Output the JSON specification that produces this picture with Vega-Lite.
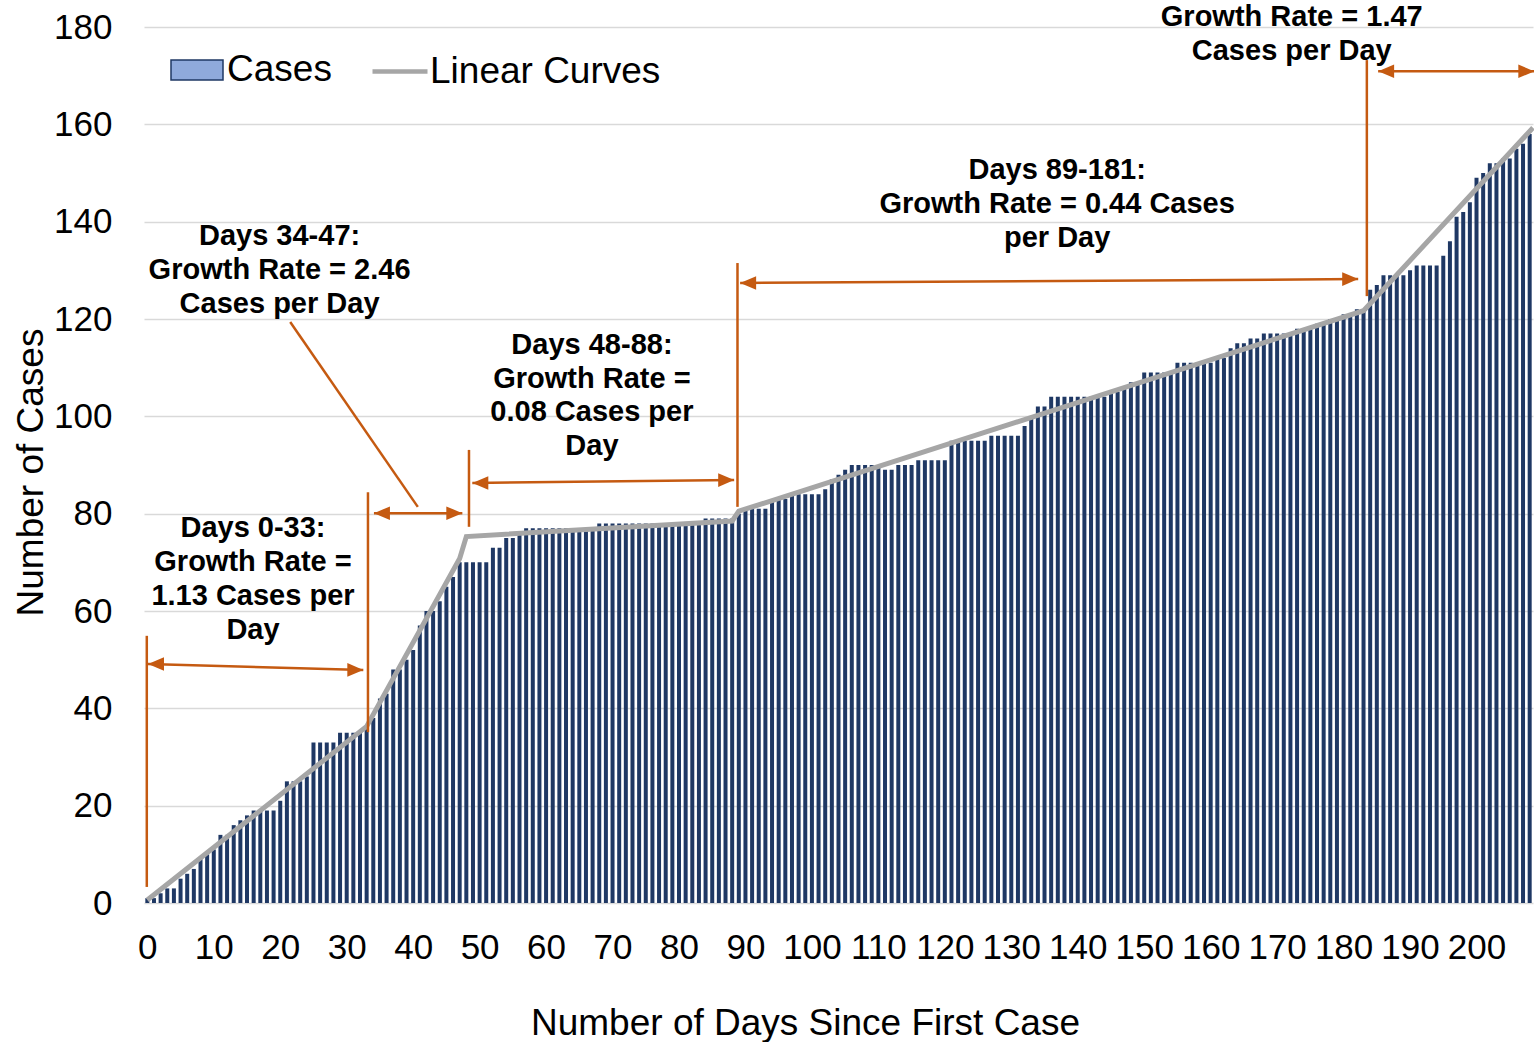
{
  "$schema": "https://vega.github.io/schema/vega-lite/v6.json",
  "width": 1389,
  "height": 876,
  "autosize": {"type": "none"},
  "padding": {"left": 144, "top": 27, "right": 1, "bottom": 139},
  "background": "white",
  "config": {"view": {"stroke": null}, "font": "Liberation Sans"},
  "datasets": {
    "cases": [
      {"day":0,"cases":1},{"day":1,"cases":1},{"day":2,"cases":2},{"day":3,"cases":3},{"day":4,"cases":3},{"day":5,"cases":5},{"day":6,"cases":6},{"day":7,"cases":7},{"day":8,"cases":9},{"day":9,"cases":10},
      {"day":10,"cases":11},{"day":11,"cases":14},{"day":12,"cases":14},{"day":13,"cases":16},{"day":14,"cases":17},{"day":15,"cases":18},{"day":16,"cases":19},{"day":17,"cases":19},{"day":18,"cases":19},{"day":19,"cases":19},
      {"day":20,"cases":21},{"day":21,"cases":25},{"day":22,"cases":25},{"day":23,"cases":25},{"day":24,"cases":26},{"day":25,"cases":33},{"day":26,"cases":33},{"day":27,"cases":33},{"day":28,"cases":33},{"day":29,"cases":35},
      {"day":30,"cases":35},{"day":31,"cases":35},{"day":32,"cases":35},{"day":33,"cases":36},{"day":34,"cases":38},{"day":35,"cases":42},{"day":36,"cases":43},{"day":37,"cases":48},{"day":38,"cases":48},{"day":39,"cases":50},
      {"day":40,"cases":52},{"day":41,"cases":57},{"day":42,"cases":60},{"day":43,"cases":60},{"day":44,"cases":62},{"day":45,"cases":65},{"day":46,"cases":67},{"day":47,"cases":70},{"day":48,"cases":70},{"day":49,"cases":70},
      {"day":50,"cases":70},{"day":51,"cases":70},{"day":52,"cases":73},{"day":53,"cases":73},{"day":54,"cases":75},{"day":55,"cases":75},{"day":56,"cases":76},{"day":57,"cases":77},{"day":58,"cases":77},{"day":59,"cases":77},
      {"day":60,"cases":77},{"day":61,"cases":77},{"day":62,"cases":77},{"day":63,"cases":77},{"day":64,"cases":77},{"day":65,"cases":77},{"day":66,"cases":77},{"day":67,"cases":77},{"day":68,"cases":78},{"day":69,"cases":78},
      {"day":70,"cases":78},{"day":71,"cases":78},{"day":72,"cases":78},{"day":73,"cases":78},{"day":74,"cases":78},{"day":75,"cases":78},{"day":76,"cases":78},{"day":77,"cases":78},{"day":78,"cases":78},{"day":79,"cases":78},
      {"day":80,"cases":78},{"day":81,"cases":78},{"day":82,"cases":78},{"day":83,"cases":78},{"day":84,"cases":79},{"day":85,"cases":79},{"day":86,"cases":79},{"day":87,"cases":79},{"day":88,"cases":79},{"day":89,"cases":80},
      {"day":90,"cases":81},{"day":91,"cases":81},{"day":92,"cases":81},{"day":93,"cases":81},{"day":94,"cases":83},{"day":95,"cases":83},{"day":96,"cases":83},{"day":97,"cases":84},{"day":98,"cases":84},{"day":99,"cases":84},
      {"day":100,"cases":84},{"day":101,"cases":84},{"day":102,"cases":85},{"day":103,"cases":87},{"day":104,"cases":88},{"day":105,"cases":89},{"day":106,"cases":90},{"day":107,"cases":90},{"day":108,"cases":90},{"day":109,"cases":90},
      {"day":110,"cases":90},{"day":111,"cases":89},{"day":112,"cases":89},{"day":113,"cases":90},{"day":114,"cases":90},{"day":115,"cases":90},{"day":116,"cases":91},{"day":117,"cases":91},{"day":118,"cases":91},{"day":119,"cases":91},
      {"day":120,"cases":91},{"day":121,"cases":95},{"day":122,"cases":95},{"day":123,"cases":95},{"day":124,"cases":95},{"day":125,"cases":95},{"day":126,"cases":95},{"day":127,"cases":96},{"day":128,"cases":96},{"day":129,"cases":96},
      {"day":130,"cases":96},{"day":131,"cases":96},{"day":132,"cases":98},{"day":133,"cases":100},{"day":134,"cases":102},{"day":135,"cases":102},{"day":136,"cases":104},{"day":137,"cases":104},{"day":138,"cases":104},{"day":139,"cases":104},
      {"day":140,"cases":104},{"day":141,"cases":104},{"day":142,"cases":104},{"day":143,"cases":104},{"day":144,"cases":104},{"day":145,"cases":105},{"day":146,"cases":105},{"day":147,"cases":106},{"day":148,"cases":107},{"day":149,"cases":107},
      {"day":150,"cases":109},{"day":151,"cases":109},{"day":152,"cases":109},{"day":153,"cases":109},{"day":154,"cases":109},{"day":155,"cases":111},{"day":156,"cases":111},{"day":157,"cases":111},{"day":158,"cases":111},{"day":159,"cases":111},
      {"day":160,"cases":111},{"day":161,"cases":112},{"day":162,"cases":112},{"day":163,"cases":114},{"day":164,"cases":115},{"day":165,"cases":115},{"day":166,"cases":116},{"day":167,"cases":116},{"day":168,"cases":117},{"day":169,"cases":117},
      {"day":170,"cases":117},{"day":171,"cases":117},{"day":172,"cases":117},{"day":173,"cases":118},{"day":174,"cases":118},{"day":175,"cases":118},{"day":176,"cases":119},{"day":177,"cases":119},{"day":178,"cases":120},{"day":179,"cases":120},
      {"day":180,"cases":121},{"day":181,"cases":121},{"day":182,"cases":122},{"day":183,"cases":122},{"day":184,"cases":126},{"day":185,"cases":127},{"day":186,"cases":129},{"day":187,"cases":129},{"day":188,"cases":129},{"day":189,"cases":129},
      {"day":190,"cases":130},{"day":191,"cases":131},{"day":192,"cases":131},{"day":193,"cases":131},{"day":194,"cases":131},{"day":195,"cases":133},{"day":196,"cases":136},{"day":197,"cases":141},{"day":198,"cases":142},{"day":199,"cases":144},
      {"day":200,"cases":149},{"day":201,"cases":150},{"day":202,"cases":152},{"day":203,"cases":152},{"day":204,"cases":153},{"day":205,"cases":153},{"day":206,"cases":155},{"day":207,"cases":156},{"day":208,"cases":158}
    ],
    "curve": [
      {"day":0,"cases":0.6},{"day":33,"cases":36.3},{"day":47,"cases":70.8},{"day":48,"cases":75.3},
      {"day":88,"cases":78.5},{"day":89,"cases":80.5},{"day":183,"cases":121.7},{"day":208.5,"cases":159.3}
    ],
    "segments": [
      {"day":-0.08,"cases":54.9,"day2":-0.08,"cases2":3.3},
      {"day":33.2,"cases":84.4,"day2":33.2,"cases2":35.1},
      {"day":48.4,"cases":93.1,"day2":48.4,"cases2":77.3},
      {"day":88.8,"cases":131.5,"day2":88.8,"cases2":81.4},
      {"day":183.5,"cases":173.2,"day2":183.5,"cases2":124.7},
      {"day":0.1,"cases":49.1,"day2":32.5,"cases2":47.9},
      {"day":34.1,"cases":80.1,"day2":47.4,"cases2":80.1},
      {"day":48.9,"cases":86.3,"day2":88.3,"cases2":86.9},
      {"day":89.2,"cases":127.4,"day2":182.2,"cases2":128.2},
      {"day":185.2,"cases":170.9,"day2":208.7,"cases2":170.9},
      {"day":21.5,"cases":119.4,"day2":40.7,"cases2":81.4}
    ],
    "heads": [
      {"day":0.1,"cases":49.1,"dir":"left"},
      {"day":34.1,"cases":80.1,"dir":"left"},
      {"day":48.9,"cases":86.3,"dir":"left"},
      {"day":89.2,"cases":127.4,"dir":"left"},
      {"day":185.2,"cases":170.9,"dir":"left"},
      {"day":32.5,"cases":47.9,"dir":"right"},
      {"day":47.4,"cases":80.1,"dir":"right"},
      {"day":88.3,"cases":86.9,"dir":"right"},
      {"day":182.2,"cases":128.2,"dir":"right"},
      {"day":208.7,"cases":170.9,"dir":"right"}
    ],
    "notes": [
      {"day":15.9,"cases":77.0,"label":"Days 0-33:"},
      {"day":15.9,"cases":70.1,"label":"Growth Rate ="},
      {"day":15.9,"cases":63.1,"label":"1.13 Cases per"},
      {"day":15.9,"cases":56.1,"label":"Day"},
      {"day":19.9,"cases":137.0,"label":"Days 34-47:"},
      {"day":19.9,"cases":130.1,"label":"Growth Rate = 2.46"},
      {"day":19.9,"cases":123.1,"label":"Cases per Day"},
      {"day":66.9,"cases":114.6,"label":"Days 48-88:"},
      {"day":66.9,"cases":107.7,"label":"Growth Rate ="},
      {"day":66.9,"cases":100.9,"label":"0.08 Cases per"},
      {"day":66.9,"cases":93.9,"label":"Day"},
      {"day":136.9,"cases":150.6,"label":"Days 89-181:"},
      {"day":136.9,"cases":143.6,"label":"Growth Rate = 0.44 Cases"},
      {"day":136.9,"cases":136.6,"label":"per Day"},
      {"day":172.2,"cases":182.0,"label":"Growth Rate = 1.47"},
      {"day":172.2,"cases":175.1,"label":"Cases per Day"}
    ]
  },
  "layer": [
    {
      "data": {"name": "cases"},
      "mark": {"type": "bar", "size": 4},
      "encoding": {
        "x": {
          "field": "day", "type": "quantitative",
          "scale": {"domain": [-0.5, 208.5], "nice": false, "zero": false, "padding": 0},
          "axis": {
            "title": "Number of Days Since First Case",
            "values": [0,10,20,30,40,50,60,70,80,90,100,110,120,130,140,150,160,170,180,190,200],
            "grid": false, "domain": false, "ticks": false,
            "labelFontSize": 35, "labelColor": "#000000", "labelPadding": 27,
            "labelFlush": false, "labelOverlap": false,
            "titleFontSize": 37, "titleFontWeight": "normal", "titleColor": "#000000",
            "titleX": 661, "titleY": 131, "titleAlign": "center", "titleBaseline": "alphabetic"
          }
        },
        "y": {
          "field": "cases", "type": "quantitative",
          "scale": {"domain": [0, 180], "nice": false},
          "axis": {
            "title": "Number of Cases",
            "values": [0,20,40,60,80,100,120,140,160,180],
            "grid": true, "gridColor": "#d9d9d9", "gridWidth": 1.5,
            "domain": false, "ticks": false,
            "labelFontSize": 35, "labelColor": "#000000", "labelPadding": 32,
            "titleFontSize": 37, "titleFontWeight": "normal", "titleColor": "#000000",
            "titleX": -102, "titleY": 445, "titleAngle": -90, "titleAlign": "center", "titleBaseline": "alphabetic"
          }
        },
        "fill": {
          "condition": {"test": "true", "value": "#1f3864"},
          "datum": "Cases",
          "scale": {"domain": ["Cases"], "range": ["#8faadc"]},
          "legend": {
            "orient": "none", "legendX": 26, "legendY": 16, "title": null, "padding": 0,
            "symbolType": "M-1,-0.385L1,-0.385L1,0.385L-1,0.385Z", "symbolSize": 2704,
            "symbolStrokeColor": "#1f3864", "symbolStrokeWidth": 1.5,
            "labelFontSize": 37, "labelColor": "#000000", "labelOffset": 3, "labelFont": "Liberation Sans", "labelLimit": 0,
            "encode": {"symbols": {"update": {"stroke": {"value": "#1f3864"}, "strokeWidth": {"value": 1.5}, "opacity": {"value": 1}}}}
          }
        }
      }
    },
    {
      "data": {"name": "curve"},
      "mark": {"type": "line", "strokeWidth": 5},
      "encoding": {
        "x": {"field": "day", "type": "quantitative"},
        "y": {"field": "cases", "type": "quantitative"},
        "stroke": {
          "datum": "Linear Curves",
          "scale": {"domain": ["Linear Curves"], "range": ["#a6a6a6"]},
          "legend": {
            "orient": "none", "legendX": 226, "legendY": 14.5, "title": null, "padding": 0,
            "symbolType": "stroke", "symbolSize": 3025, "symbolStrokeWidth": 4.5,
            "labelFontSize": 37, "labelColor": "#000000", "labelOffset": 0, "labelFont": "Liberation Sans", "labelLimit": 0
          }
        }
      }
    },
    {
      "data": {"name": "segments"},
      "mark": {"type": "rule", "color": "#c55a11", "strokeWidth": 2.5},
      "encoding": {
        "x": {"field": "day", "type": "quantitative"},
        "y": {"field": "cases", "type": "quantitative"},
        "x2": {"field": "day2"},
        "y2": {"field": "cases2"}
      }
    },
    {
      "data": {"name": "heads"},
      "transform": [{"filter": "datum.dir == 'right'"}],
      "mark": {"type": "point", "shape": "M0,0L-2,-0.85L-2,0.85Z", "size": 256, "filled": true, "fill": "#c55a11", "strokeWidth": 0, "opacity": 1},
      "encoding": {
        "x": {"field": "day", "type": "quantitative"},
        "y": {"field": "cases", "type": "quantitative"}
      }
    },
    {
      "data": {"name": "heads"},
      "transform": [{"filter": "datum.dir == 'left'"}],
      "mark": {"type": "point", "shape": "M0,0L2,-0.85L2,0.85Z", "size": 256, "filled": true, "fill": "#c55a11", "strokeWidth": 0, "opacity": 1},
      "encoding": {
        "x": {"field": "day", "type": "quantitative"},
        "y": {"field": "cases", "type": "quantitative"}
      }
    },
    {
      "data": {"name": "notes"},
      "mark": {"type": "text", "font": "Liberation Sans", "fontSize": 29, "fontWeight": "bold", "color": "#000000", "align": "center", "baseline": "middle"},
      "encoding": {
        "x": {"field": "day", "type": "quantitative"},
        "y": {"field": "cases", "type": "quantitative"},
        "text": {"field": "label"}
      }
    }
  ]
}
